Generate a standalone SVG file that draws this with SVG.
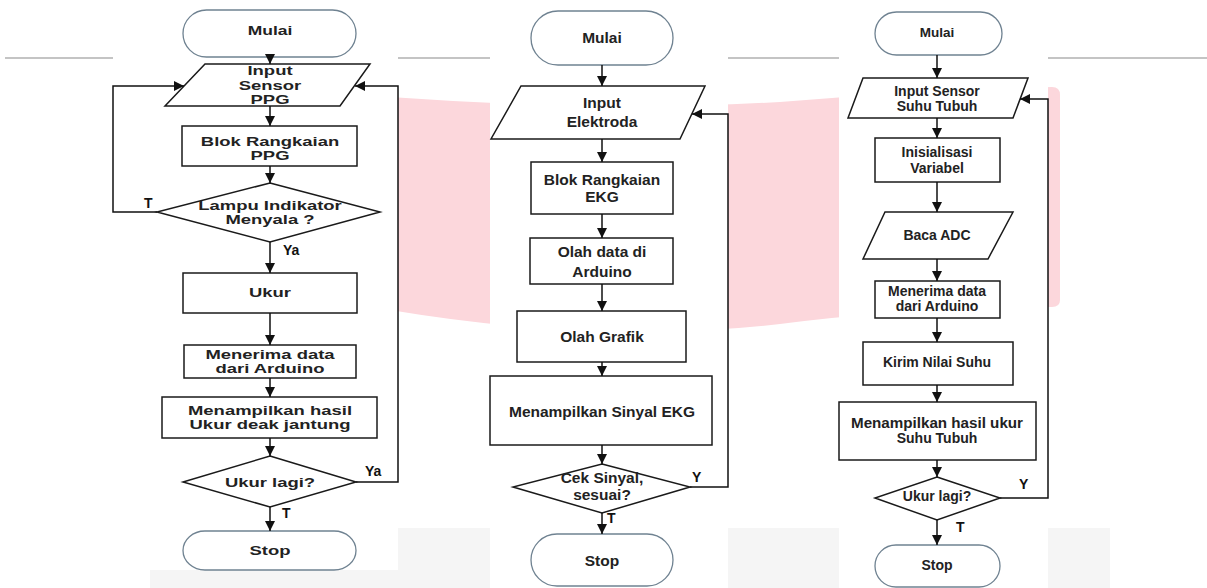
<svg xmlns="http://www.w3.org/2000/svg" width="1207" height="588" viewBox="0 0 1207 588">
<style>
.bg{fill:#ffffff}
.term{fill:#ffffff;stroke:#6f8291;stroke-width:1.3}
.box{fill:#ffffff;stroke:#1a1a1a;stroke-width:1.5}
.ln{fill:none;stroke:#111111;stroke-width:1.5}
.t{font-family:"Liberation Sans",Arial,sans-serif;font-weight:bold;fill:#222222;text-anchor:middle}
.l{font-size:13px}
.m{font-size:15.5px}
.r{font-size:14px}
.lbl{font-family:"Liberation Sans",Arial,sans-serif;font-weight:bold;fill:#111111;font-size:14px}
</style>
<defs>
<marker id="ah" markerUnits="userSpaceOnUse" markerWidth="10" markerHeight="10" viewBox="0 0 10 10" refX="10" refY="5" orient="auto">
<path d="M0,0 L10,5 L0,10 Z" fill="#111111"/>
</marker>
</defs>

<g id="background">
<rect x="0" y="0" width="1207" height="588" fill="#ffffff"/>
<path d="M390,97 Q600,112 780,102 Q920,90 1052,87 Q1060,87 1060,95 L1060,300 Q1060,307 1052,307 Q900,308 780,324 Q600,345 390,310 Z" fill="#fcd7dc"/>
<rect x="150" y="528" width="960" height="60" fill="#f5f5f5"/>
<line x1="5" y1="58" x2="1207" y2="58" stroke="#8a8a8a" stroke-width="1.2"/>
<rect x="113" y="0" width="285" height="570" class="bg"/>
<rect x="490" y="0" width="238" height="588" class="bg"/>
<rect x="839" y="0" width="209" height="588" class="bg"/>
</g>

<!-- LEFT CHART -->
<g id="l-mulai"><rect x="183" y="10" width="173" height="47" rx="23.5" class="term"/>
<text class="t" font-size="12.5" transform="translate(270,35) scale(1.4,1)">Mulai</text></g>
<g id="l-input"><polygon points="205,64 370,64 340,106 165,106" class="box"/>
<text class="t l" transform="translate(270,75) scale(1.42,1)">Input</text>
<text class="t l" transform="translate(270,90) scale(1.42,1)">Sensor</text>
<text class="t l" transform="translate(270,104) scale(1.42,1)">PPG</text></g>
<g id="l-blok"><rect x="182" y="126" width="175" height="40" class="box"/>
<text class="t l" transform="translate(270,146) scale(1.42,1)">Blok Rangkaian</text>
<text class="t l" transform="translate(270,160) scale(1.42,1)">PPG</text></g>
<g id="l-lampu"><polygon points="270,183 380,212 270,242 157,212" class="box"/>
<text class="t l" transform="translate(270,210) scale(1.42,1)">Lampu Indikator</text>
<text class="t l" transform="translate(270,224) scale(1.42,1)">Menyala ?</text></g>
<g id="l-ukur"><rect x="183" y="273" width="174" height="40" class="box"/>
<text class="t l" transform="translate(270,297) scale(1.42,1)">Ukur</text></g>
<g id="l-terima"><rect x="184" y="345" width="172" height="33" class="box"/>
<text class="t l" transform="translate(270,359) scale(1.42,1)">Menerima data</text>
<text class="t l" transform="translate(270,373) scale(1.42,1)">dari Arduino</text></g>
<g id="l-tampil"><rect x="162" y="397" width="215" height="41" class="box"/>
<text class="t l" transform="translate(270,415) scale(1.42,1)">Menampilkan hasil</text>
<text class="t l" transform="translate(270,429) scale(1.42,1)">Ukur deak jantung</text></g>
<g id="l-lagi"><polygon points="270,456 356,482 270,507 183,482" class="box"/>
<text class="t l" transform="translate(270,487) scale(1.42,1)">Ukur lagi?</text></g>
<g id="l-stop"><rect x="183" y="531" width="173" height="39" rx="22" ry="19.5" class="term"/>
<text class="t l" transform="translate(270,555) scale(1.42,1)">Stop</text></g>

<!-- MIDDLE CHART -->
<g id="m-mulai"><rect x="531" y="11" width="142" height="54" rx="27" class="term"/>
<text class="t m" x="602" y="43">Mulai</text></g>
<g id="m-input"><polygon points="521,86 705,86 680,139 491,139" class="box"/>
<text class="t m" x="602" y="108">Input</text>
<text class="t m" x="602" y="127">Elektroda</text></g>
<g id="m-blok"><rect x="531" y="162" width="142" height="52" class="box"/>
<text class="t m" x="602" y="185">Blok Rangkaian</text>
<text class="t m" x="602" y="202">EKG</text></g>
<g id="m-olah"><rect x="530" y="238" width="143" height="46" class="box"/>
<text class="t m" x="602" y="257">Olah data di</text>
<text class="t m" x="602" y="277">Arduino</text></g>
<g id="m-grafik"><rect x="517" y="311" width="169" height="51" class="box"/>
<text class="t m" x="602" y="342">Olah Grafik</text></g>
<g id="m-tampil"><rect x="490" y="376" width="222" height="69" class="box"/>
<text class="t m" x="602" y="417" font-size="16">Menampilkan Sinyal EKG</text></g>
<g id="m-cek"><polygon points="602,464 690,487 602,513 513,487" class="box"/>
<text class="t m" x="602" y="483">Cek Sinyal,</text>
<text class="t m" x="602" y="500">sesuai?</text></g>
<g id="m-stop"><rect x="531" y="534" width="142" height="52" rx="26" class="term"/>
<text class="t m" x="602" y="566">Stop</text></g>

<!-- RIGHT CHART -->
<g id="r-mulai"><rect x="875" y="12" width="127" height="43" rx="21.5" class="term"/>
<text class="t" font-size="13.5" x="937" y="37">Mulai</text></g>
<g id="r-input"><polygon points="863,78 1028,78 1013,118 848,118" class="box"/>
<text class="t r" x="937" y="96">Input Sensor</text>
<text class="t r" x="937" y="111">Suhu Tubuh</text></g>
<g id="r-init"><rect x="875" y="138" width="125" height="44" class="box"/>
<text class="t r" x="937" y="157">Inisialisasi</text>
<text class="t r" x="937" y="173">Variabel</text></g>
<g id="r-adc"><polygon points="885,212 1013,212 988,259 863,259" class="box"/>
<text class="t r" x="937" y="240">Baca ADC</text></g>
<g id="r-terima"><rect x="875" y="281" width="125" height="37" class="box"/>
<text class="t r" x="937" y="296">Menerima data</text>
<text class="t r" x="937" y="311">dari Arduino</text></g>
<g id="r-kirim"><rect x="863" y="342" width="150" height="43" class="box"/>
<text class="t r" x="937" y="367">Kirim Nilai Suhu</text></g>
<g id="r-tampil"><rect x="839" y="402" width="197" height="58" class="box"/>
<text class="t r" x="937" y="428" textLength="172" lengthAdjust="spacingAndGlyphs">Menampilkan hasil ukur</text>
<text class="t r" x="937" y="443">Suhu Tubuh</text></g>
<g id="r-lagi"><polygon points="937,477 1000,498 937,520 875,498" class="box"/>
<text class="t r" x="937" y="501">Ukur lagi?</text></g>
<g id="r-stop"><rect x="875" y="545" width="125" height="42" rx="21" class="term"/>
<text class="t r" x="937" y="570">Stop</text></g>

<g id="connectors">
<line x1="270" y1="57" x2="270" y2="64" class="ln" marker-end="url(#ah)"/>
<line x1="270" y1="106" x2="270" y2="126" class="ln" marker-end="url(#ah)"/>
<line x1="270" y1="166" x2="270" y2="183" class="ln" marker-end="url(#ah)"/>
<line x1="270" y1="242" x2="270" y2="273" class="ln" marker-end="url(#ah)"/>
<line x1="270" y1="313" x2="270" y2="345" class="ln" marker-end="url(#ah)"/>
<line x1="270" y1="378" x2="270" y2="397" class="ln" marker-end="url(#ah)"/>
<line x1="270" y1="438" x2="270" y2="456" class="ln" marker-end="url(#ah)"/>
<line x1="270" y1="507" x2="270" y2="531" class="ln" marker-end="url(#ah)"/>
<polyline points="157,212 113,212 113,86 184,86" class="ln" marker-end="url(#ah)"/>
<polyline points="356,482 398,482 398,86 355,86" class="ln" marker-end="url(#ah)"/>

<line x1="602" y1="65" x2="602" y2="86" class="ln" marker-end="url(#ah)"/>
<line x1="602" y1="139" x2="602" y2="162" class="ln" marker-end="url(#ah)"/>
<line x1="602" y1="214" x2="602" y2="238" class="ln" marker-end="url(#ah)"/>
<line x1="602" y1="284" x2="602" y2="311" class="ln" marker-end="url(#ah)"/>
<line x1="602" y1="362" x2="602" y2="376" class="ln" marker-end="url(#ah)"/>
<line x1="602" y1="445" x2="602" y2="464" class="ln" marker-end="url(#ah)"/>
<line x1="602" y1="513" x2="602" y2="534" class="ln" marker-end="url(#ah)"/>
<polyline points="690,487 728,487 728,114 692,114" class="ln" marker-end="url(#ah)"/>

<line x1="937" y1="55" x2="937" y2="78" class="ln" marker-end="url(#ah)"/>
<line x1="937" y1="118" x2="937" y2="138" class="ln" marker-end="url(#ah)"/>
<line x1="937" y1="182" x2="937" y2="212" class="ln" marker-end="url(#ah)"/>
<line x1="937" y1="259" x2="937" y2="281" class="ln" marker-end="url(#ah)"/>
<line x1="937" y1="318" x2="937" y2="342" class="ln" marker-end="url(#ah)"/>
<line x1="937" y1="385" x2="937" y2="402" class="ln" marker-end="url(#ah)"/>
<line x1="937" y1="460" x2="937" y2="477" class="ln" marker-end="url(#ah)"/>
<line x1="937" y1="520" x2="937" y2="545" class="ln" marker-end="url(#ah)"/>
<polyline points="1000,498 1048,498 1048,99 1020,99" class="ln" marker-end="url(#ah)"/>

<text class="lbl" x="144" y="208">T</text>
<text class="lbl" x="283" y="255">Ya</text>
<text class="lbl" x="365" y="476">Ya</text>
<text class="lbl" x="282" y="518">T</text>
<text class="lbl" x="692" y="482">Y</text>
<text class="lbl" x="607" y="523">T</text>
<text class="lbl" x="1019" y="489">Y</text>
<text class="lbl" x="956" y="532">T</text>
</g>
</svg>
